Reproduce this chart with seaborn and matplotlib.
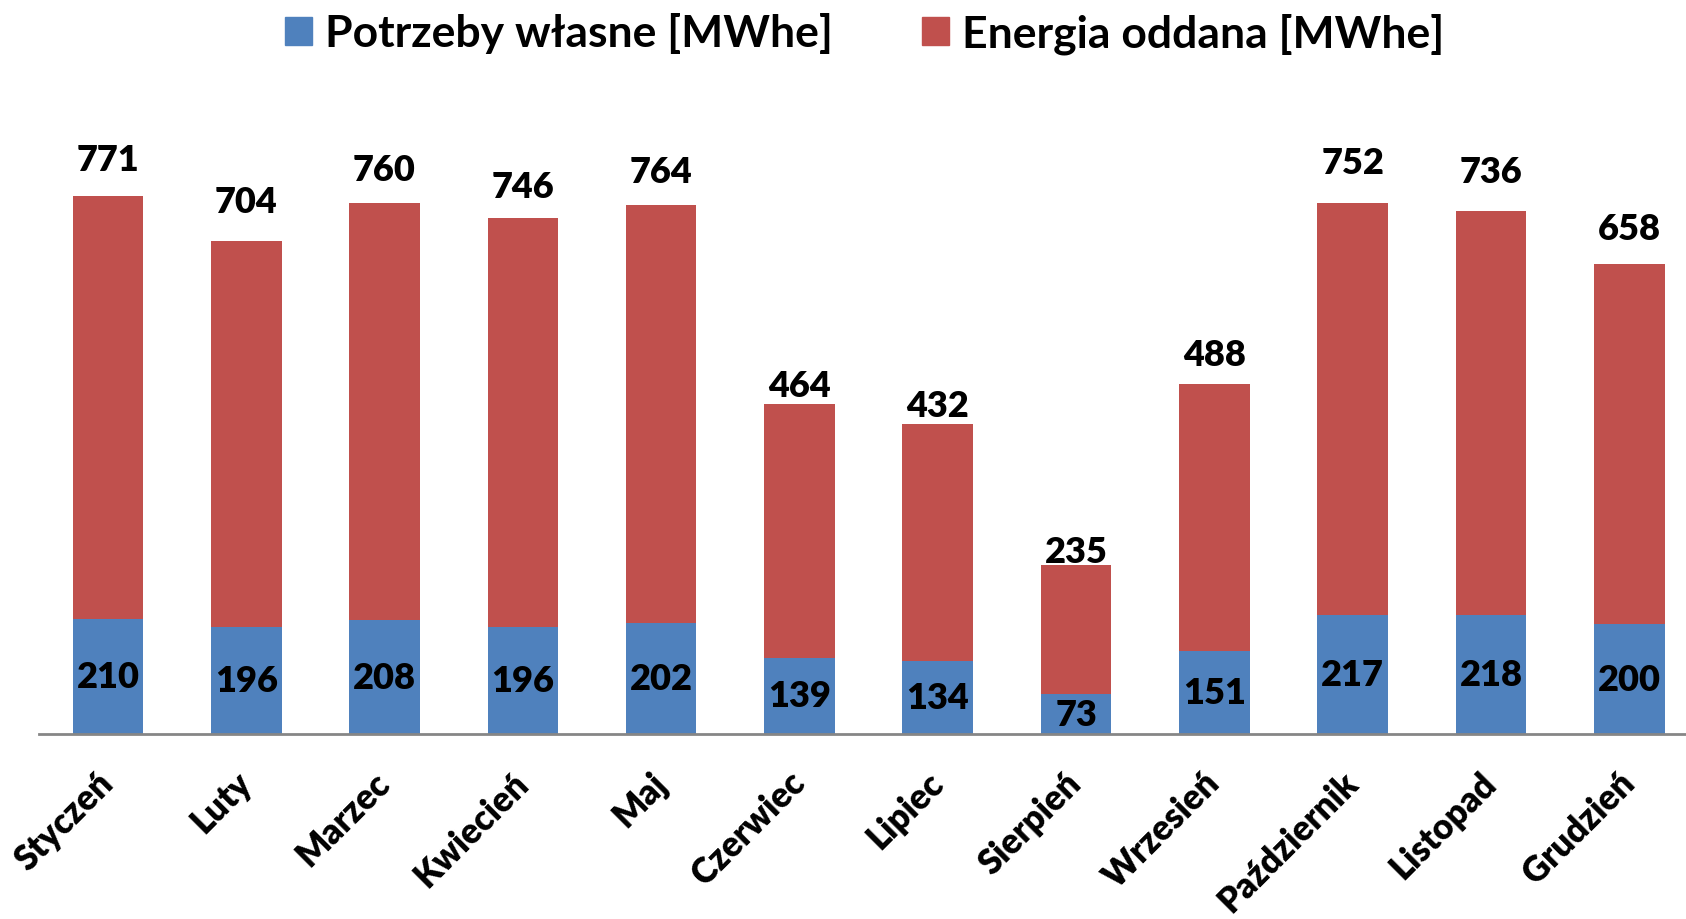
import matplotlib
matplotlib.use("Agg")
import matplotlib.pyplot as plt
import matplotlib.patches as mpatches
import seaborn as sns
import pandas as pd

# dane miesięczne
months = ["Styczeń", "Luty", "Marzec", "Kwiecień", "Maj", "Czerwiec",
          "Lipiec", "Sierpień", "Wrzesień", "Październik", "Listopad", "Grudzień"]
potrzeby = [210, 196, 208, 196, 202, 139, 134, 73, 151, 217, 218, 200]
oddana = [771, 704, 760, 746, 764, 464, 432, 235, 488, 752, 736, 658]

# przesunięcie etykiet nad słupkami (pt)
label_pad = [26.7, 28.2, 24.4, 22.8, 23.6, 12.8, 13.2, 10.1, 21.3, 29.0, 28.2, 25.2]

df = pd.DataFrame({"miesiac": months, "potrzeby": potrzeby, "oddana": oddana})
df["suma"] = df["potrzeby"] + df["oddana"]

sns.set_style("white")
plt.rcParams['font.family'] = ['Lato', 'DejaVu Sans']
plt.rcParams['font.weight'] = 'bold'
plt.rcParams['text.color'] = 'black'
plt.rcParams['xtick.color'] = 'black'

blue = "#4F81BD"
red = "#C0504D"

fig = plt.figure(figsize=(16.86, 9.2), dpi=100)
ax = fig.add_axes([0.023, 0.201, 0.977, 0.715])

sns.barplot(data=df, x="miesiac", y="suma", color=red, width=0.51,
            saturation=1, linewidth=0, ax=ax)
sns.barplot(data=df, x="miesiac", y="potrzeby", color=blue, width=0.51,
            saturation=1, linewidth=0, ax=ax)

# etykiety w niebieskich segmentach
ax.bar_label(ax.containers[1], labels=[str(v) for v in potrzeby],
             label_type='center', fontsize=26, fontweight='heavy', color='black')

# etykiety nad słupkami
for i, (tot, val) in enumerate(zip(df["suma"], oddana)):
    ax.annotate(str(val), (i, tot), xytext=(0, label_pad[i]),
                textcoords='offset points', ha='center', va='center',
                fontsize=26, fontweight='heavy', color='black')

ax.set_ylim(0, 1200)
ax.set_xlim(-0.5, 11.41)
ax.set_xlabel("")
ax.set_ylabel("")
ax.set_yticks([])
for s in ["top", "left", "right"]:
    ax.spines[s].set_visible(False)
ax.spines["bottom"].set_color("#868686")
ax.spines["bottom"].set_linewidth(2)
ax.tick_params(axis='x', length=0, pad=31)
plt.setp(ax.get_xticklabels(), rotation=45, ha='right', va='center',
         rotation_mode='anchor', fontsize=25, fontweight='heavy', color='black')

handles = [mpatches.Patch(color=blue, label="Potrzeby własne [MWhe]"),
           mpatches.Patch(color=red, label="Energia oddana [MWhe]")]
fig.legend(handles=handles, loc='center', bbox_to_anchor=(0.513, 0.963),
           ncol=2, frameon=False, prop={'size': 32, 'weight': 'bold'},
           handlelength=0.6, handleheight=0.6, handletextpad=0.3,
           columnspacing=2.0)

fig.savefig("out.png", dpi=100)
